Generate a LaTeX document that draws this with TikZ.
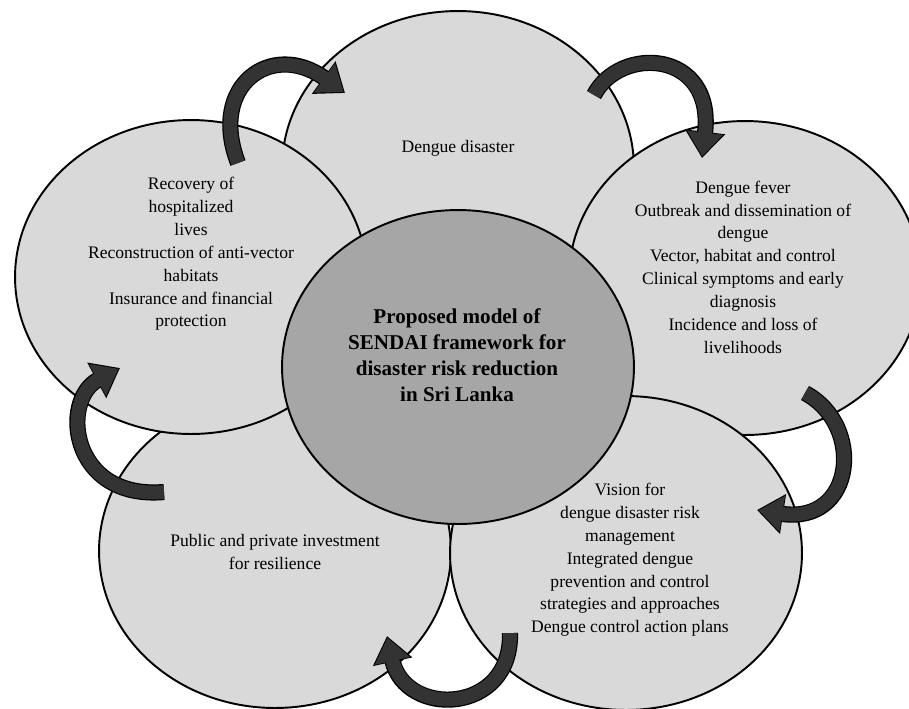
\documentclass[tikz,border=0pt]{standalone}
\usepackage{fontspec}
\setmainfont{Liberation Serif}
\usetikzlibrary{arrows.meta,shapes.geometric}
\definecolor{petalC}{HTML}{D9D9D9}
\definecolor{hubC}{HTML}{A6A6A6}
\definecolor{arrowC}{HTML}{333333}
\tikzset{
  petal/.style={ellipse, draw=black, line width=1.1pt, fill=#1, inner sep=0pt,
                minimum width=7.04cm, minimum height=6.28cm},
  petal/.default=petalC,
  txt/.style={align=center, font=\fontsize{10}{13}\selectfont},
  cycout/.style={line width=9.2pt, draw=black, -{Triangle[length=15pt, width=22pt]}},
  cycin/.style={line width=7.8pt, draw=arrowC, shorten >=0.9pt,
                -{Triangle[length=13.6pt, width=19.6pt]}},
}

\begin{document}
\begin{tikzpicture}[x=0.02cm, y=-0.02cm]
    \useasboundingbox (0,0) rectangle (909,708);
    % Ellipses (back to front)
    \node[petal] (disaster) at (458,168) {};
    \node[petal] (invest) at (275,551) {};
    \node[petal] (recovery) at (191,277) {};
    \node[petal] (fever) at (745,278) {};
    \node[petal] (vision) at (626,553) {};
    \node[petal=hubC] (hub) at (458,367) {};
    % Texts
    \node[txt] (disasterT) at (458,148) {Dengue disaster};
    \node[txt] (recoveryT) at (191,254)
      {Recovery of\\hospitalized\\lives\\Reconstruction of anti-vector\\habitats\\
       Insurance and financial\\protection};
    \node[txt] (feverT) at (743,267)
      {Dengue fever\\Outbreak and dissemination of\\dengue\\Vector, habitat and control\\
       Clinical symptoms and early\\diagnosis\\Incidence and loss of\\livelihoods};
    \node[txt] (investT) at (275,552) {Public and private investment\\for resilience};
    \node[txt] (visionT) at (630,560)
      {Vision for\\dengue disaster risk\\management\\Integrated dengue\\
       prevention and control\\strategies and approaches\\Dengue control action plans};
    \node[align=center, font=\fontsize{12}{14.8}\selectfont\bfseries] (hubT) at (457,355)
      {Proposed model of\\SENDAI framework for\\disaster risk reduction\\in Sri Lanka};
    % Cycle arrows
    \coordinate (a1s) at (238,163); \coordinate (a1e) at (345,93);
    \coordinate (a2s) at (594,95);  \coordinate (a2e) at (702,158);
    \coordinate (a3s) at (805,393); \coordinate (a3e) at (757,510);
    \coordinate (a4s) at (510,633); \coordinate (a4e) at (387,636);
    \coordinate (a5s) at (164,492); \coordinate (a5e) at (120,368);
    \foreach \s in {cycout,cycin}{
      \draw[\s] (a1s) .. controls (208,85) and (272,40) .. (a1e);
      \draw[\s] (a2s) .. controls (620,45) and (715,50) .. (a2e);
      \draw[\s] (a3s) .. controls (865,425) and (855,525) .. (a3e);
      \draw[\s] (a4s) .. controls (512,715) and (405,718) .. (a4e);
      \draw[\s] (a5s) .. controls (70,500) and (60,400) .. (a5e);
    }
\end{tikzpicture}
\end{document}
